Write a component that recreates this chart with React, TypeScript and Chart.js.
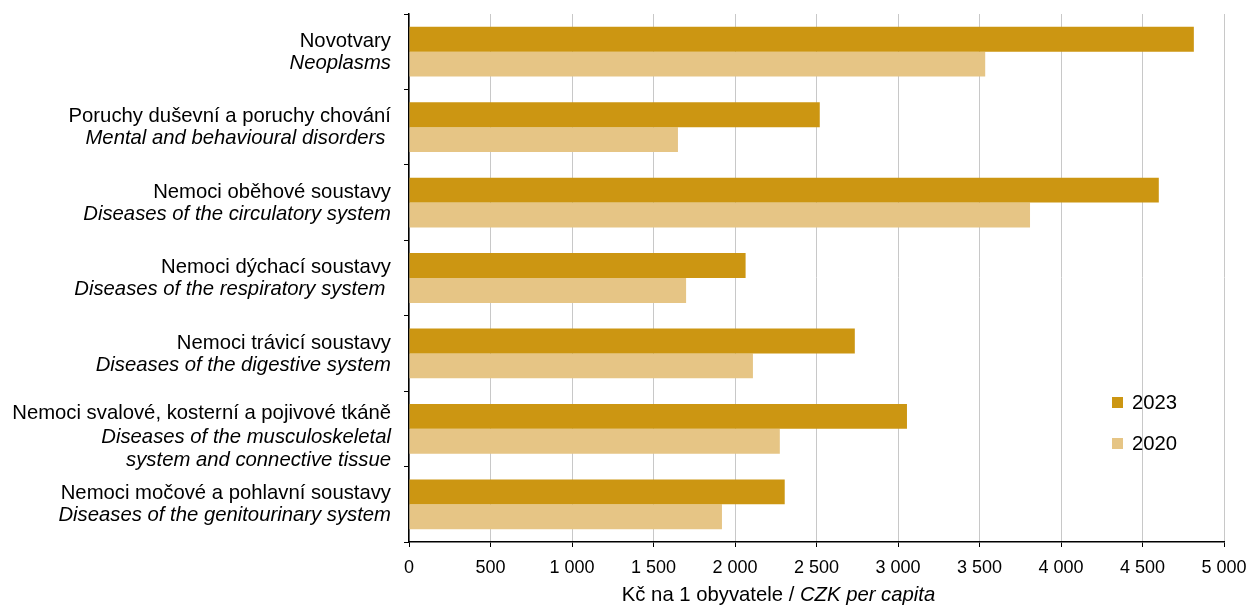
import React, { useEffect, useRef } from "react";
import { Chart, registerables } from "chart.js";

Chart.register(...registerables);

const categoriesCz = [
  "Novotvary",
  "Poruchy duševní a poruchy chování",
  "Nemoci oběhové soustavy",
  "Nemoci dýchací soustavy",
  "Nemoci trávicí soustavy",
  "Nemoci svalové, kosterní a pojivové tkáně",
  "Nemoci močové a pohlavní soustavy",
];
const categoriesEn = [
  ["Neoplasms"],
  ["Mental and behavioural disorders "],
  ["Diseases of the circulatory system"],
  ["Diseases of the respiratory system "],
  ["Diseases of the digestive system"],
  ["Diseases of the musculoskeletal", "system and connective tissue"],
  ["Diseases of the genitourinary system"],
];
const values2023 = [4815, 2520, 4600, 2065, 2735, 3055, 2305];
const values2020 = [3535, 1650, 3810, 1700, 2110, 2275, 1920];
const seriesLabels = ["2023", "2020"];
const seriesColors = ["#CC9612", "#E6C585"];
const axisTitleNormal = "Kč na 1 obyvatele / ";
const axisTitleItalic = "CZK per capita";

const FONT = "'Liberation Sans', Arial, sans-serif";
const FS = 20.3;

const labelsPlugin = {
  id: "customLabels",
  afterDraw(chart: any) {
    const ctx = chart.ctx;
    const y = chart.scales.y;
    ctx.save();
    ctx.fillStyle = "#000";
    ctx.textAlign = "right";
    ctx.textBaseline = "middle";
    categoriesCz.forEach((cz, i) => {
      const lines = [{ t: cz, it: false }, ...categoriesEn[i].map((t) => ({ t, it: true }))];
      const three = lines.length > 2;
      const lh = three ? 23.5 : 22;
      const cy = y.getPixelForValue(i) + (three ? 8 : 0.5);
      const start = cy - ((lines.length - 1) * lh) / 2;
      lines.forEach((ln, k) => {
        ctx.font = (ln.it ? "italic " : "") + FS + "px " + FONT;
        ctx.fillText(ln.t, 391, start + k * lh);
      });
    });
    // x axis title
    ctx.textAlign = "left";
    ctx.font = FS + "px " + FONT;
    const w1 = ctx.measureText(axisTitleNormal).width;
    ctx.font = "italic " + FS + "px " + FONT;
    const w2 = ctx.measureText(axisTitleItalic).width;
    const x0 = 778.5 - (w1 + w2) / 2;
    ctx.font = FS + "px " + FONT;
    ctx.fillText(axisTitleNormal, x0, 595);
    ctx.font = "italic " + FS + "px " + FONT;
    ctx.fillText(axisTitleItalic, x0 + w1, 595);
    // legend
    ctx.font = FS + "px " + FONT;
    seriesLabels.forEach((s, i) => {
      const ly = 402 + i * 41;
      ctx.fillStyle = seriesColors[i];
      ctx.fillRect(1112, ly - 5, 11, 11);
      ctx.fillStyle = "#000";
      ctx.fillText(s, 1132, ly + 1);
    });
    ctx.restore();
  },
};

export default function App() {
  const ref = useRef<HTMLCanvasElement>(null);
  useEffect(() => {
    if (!ref.current) return;
    const chart = new Chart(ref.current, {
      type: "bar",
      data: {
        labels: categoriesCz,
        datasets: [
          {
            label: seriesLabels[0],
            data: values2023,
            backgroundColor: seriesColors[0],
            categoryPercentage: 0.66,
            barPercentage: 1,
          },
          {
            label: seriesLabels[1],
            data: values2020,
            backgroundColor: seriesColors[1],
            categoryPercentage: 0.66,
            barPercentage: 1,
          },
        ],
      },
      plugins: [labelsPlugin],
      options: {
        indexAxis: "y",
        responsive: false,
        animation: false,
        layout: { padding: { top: 14, right: 0, left: 0, bottom: 0 } },
        plugins: { legend: { display: false }, tooltip: { enabled: false } },
        scales: {
          x: {
            min: 0,
            max: 5000,
            ticks: {
              stepSize: 500,
              color: "#000",
              font: { family: FONT, size: 18 },
              padding: 10,
              maxRotation: 0,
              autoSkip: false,
              callback: (v: any) => String(v).replace(/\B(?=(\d{3})+(?!\d))/g, " "),
            },
            grid: { color: "#c8c8c8", tickColor: "#000", tickLength: 5, lineWidth: 1 },
            border: { color: "#000", width: 1.5 },
            afterFit: (s: any) => {
              s.height = 63;
              s.paddingRight = 24;
              s.paddingLeft = 0;
            },
          },
          y: {
            ticks: { display: false },
            grid: { drawOnChartArea: false, offset: true, tickLength: 5, color: "#000" },
            border: { color: "#000", width: 1.5 },
            afterFit: (s: any) => {
              s.width = 409;
            },
          },
        },
      },
    } as any);
    return () => chart.destroy();
  }, []);
  return (
    <div style={{ position: "fixed", left: 0, top: 0, width: 1248, height: 605, background: "#fff" }}>
      <canvas ref={ref} width={1248} height={605} />
    </div>
  );
}
